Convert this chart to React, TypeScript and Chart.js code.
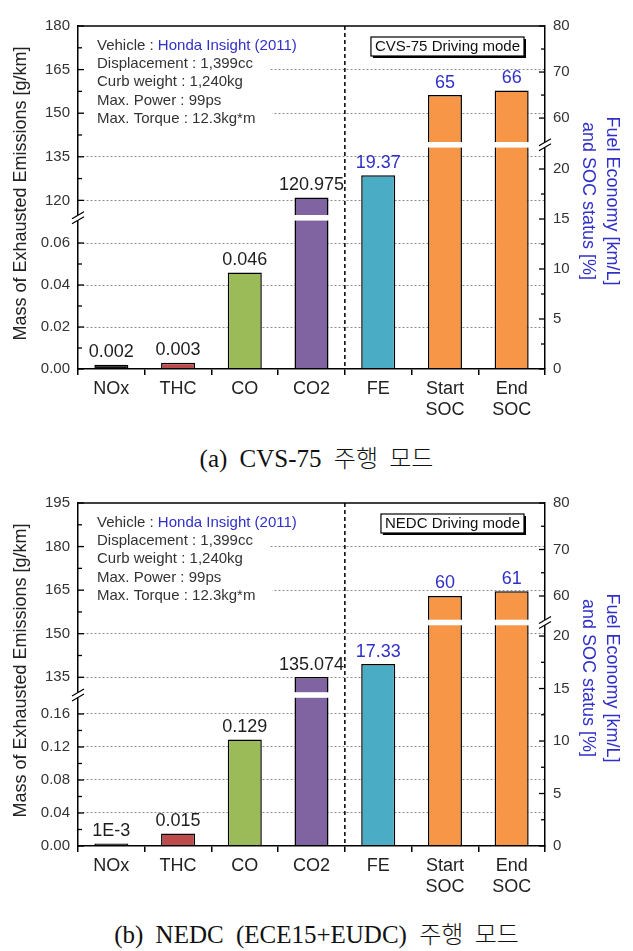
import React, { useEffect, useRef } from 'react';
import { Chart, registerables } from 'chart.js';

Chart.register(...registerables);

const FONT = '"Liberation Sans", Arial, Helvetica, sans-serif';
const BLUE = '#3030c8';
Chart.defaults.font.family = FONT;

// ---------- data ----------
const categories: (string | string[])[] = ['NOx', 'THC', 'CO', 'CO2', 'FE', ['Start', 'SOC'], ['End', 'SOC']];
const barColors = ['#141414', '#bd4b4b', '#9bbb59', '#8064a2', '#4bacc6', '#f79646', '#f79646'];

// (a) CVS-75
const cvsEmissions = [0.002, 0.003, 0.046, 120.975];
const cvsEconomy = [19.37, 65, 66];
const cvsValueLabels = ['0.002', '0.003', '0.046', '120.975', '19.37', '65', '66'];
const cvsLeftLowTicks = [0, 0.02, 0.04, 0.06];
const cvsLeftHighTicks = [120, 135, 150, 165, 180];
const cvsRightLowTicks = [0, 5, 10, 15, 20];
const cvsRightHighTicks = [60, 70, 80];

// (b) NEDC
const nedcEmissions = [0.001, 0.015, 0.129, 135.074];
const nedcEconomy = [17.33, 60, 61];
const nedcValueLabels = ['1E-3', '0.015', '0.129', '135.074', '17.33', '60', '61'];
const nedcLeftLowTicks = [0, 0.04, 0.08, 0.12, 0.16];
const nedcLeftHighTicks = [135, 150, 165, 180, 195];
const nedcRightLowTicks = [0, 5, 10, 15, 20];
const nedcRightHighTicks = [60, 70, 80];

const vehicleInfo = [
  [{ text: 'Vehicle : ', color: '#333' }, { text: 'Honda Insight (2011)', color: BLUE }],
  [{ text: 'Displacement : 1,399cc', color: '#333' }],
  [{ text: 'Curb weight : 1,240kg', color: '#333' }],
  [{ text: 'Max. Power : 99ps', color: '#333' }],
  [{ text: 'Max. Torque : 12.3kg*m', color: '#333' }],
];

const leftTitle = 'Mass of Exhausted Emissions [g/km]';
const rightTitle = ['Fuel Economy [km/L]', 'and SOC status [%]'];

type AxisCfg = { min: number; max: number; weight: number; ticks: number[]; decimals: number };
type PanelCfg = {
  key: string;
  emissions: number[];
  economy: number[];
  labels: string[];
  leftLow: AxisCfg;
  leftHigh: AxisCfg;
  rightLow: AxisCfg;
  rightHigh: AxisCfg;
  mode: string;
};

const panelA: PanelCfg = {
  key: 'a',
  emissions: cvsEmissions,
  economy: cvsEconomy,
  labels: cvsValueLabels,
  leftLow: { min: 0, max: 0.072, weight: 151.2, ticks: cvsLeftLowTicks, decimals: 2 },
  leftHigh: { min: 114, max: 180, weight: 191.8, ticks: cvsLeftHighTicks, decimals: 0 },
  rightLow: { min: 0, max: 22.42, weight: 224.2, ticks: cvsRightLowTicks, decimals: 0 },
  rightHigh: { min: 54.2, max: 80, weight: 118.8, ticks: cvsRightHighTicks, decimals: 0 },
  mode: 'CVS-75 Driving mode',
};

const panelB: PanelCfg = {
  key: 'b',
  emissions: nedcEmissions,
  economy: nedcEconomy,
  labels: nedcValueLabels,
  leftLow: { min: 0, max: 0.183, weight: 151, ticks: nedcLeftLowTicks, decimals: 2 },
  leftHigh: { min: 128.9, max: 195, weight: 192, ticks: nedcLeftHighTicks, decimals: 0 },
  rightLow: { min: 0, max: 21.29, weight: 223.5, ticks: nedcRightLowTicks, decimals: 0 },
  rightHigh: { min: 54.3, max: 80, weight: 119.5, ticks: nedcRightHighTicks, decimals: 0 },
  mode: 'NEDC Driving mode',
};

// ---------- geometry ----------
const CANVAS_W = 617;
const CANVAS_H = 430;
const TOP_PAD = 18;
const LEFT_W = 70;
const RIGHT_W = 80;
const X_H = 69;

const near = (a: number, b: number) => Math.abs(a - b) < 1e-9;

function allTicks(majors: number[]) {
  const out = [...majors];
  for (let i = 0; i < majors.length - 1; i++) out.push((majors[i] + majors[i + 1]) / 2);
  return out.sort((a, b) => a - b);
}

// value of the upper (broken) scale at the bottom of the plot area
function upperBase(low: AxisCfg, high: AxisCfg) {
  return high.min - ((high.max - high.min) * low.weight) / high.weight;
}

function yScale(cfg: AxisCfg, position: 'left' | 'right', stack: string, gridOn: boolean) {
  const ticksAll = allTicks(cfg.ticks);
  const isMajor = (v: number) => cfg.ticks.some((m) => near(m, v));
  return {
    type: 'linear',
    position,
    stack,
    stackWeight: cfg.weight,
    min: cfg.min,
    max: cfg.max,
    bounds: 'data',
    afterBuildTicks: (s: any) => {
      s.ticks = ticksAll.map((v) => ({ value: v }));
    },
    afterFit: (s: any) => {
      s.width = position === 'left' ? LEFT_W : RIGHT_W;
    },
    ticks: {
      autoSkip: false,
      padding: 8,
      color: '#333',
      font: { size: 15 },
      callback: (v: any) => (isMajor(Number(v)) ? Number(v).toFixed(cfg.decimals) : ''),
    },
    grid: {
      drawTicks: false,
      lineWidth: 1,
      color: (c: any) => {
        const v = c.tick ? c.tick.value : NaN;
        return gridOn && isMajor(v) && v > cfg.min + 1e-9 && v < cfg.max - 1e-9 ? '#8c8c8c' : 'rgba(0,0,0,0)';
      },
    },
    border: { display: true, color: '#000', width: 1.5, dash: [2, 2], z: 1 },
  };
}

function Panel({ cfg, top }: { cfg: PanelCfg; top: number }) {
  const ref = useRef<HTMLCanvasElement | null>(null);

  useEffect(() => {
    if (!ref.current) return;
    const values = [...cfg.emissions, ...cfg.economy];
    const nE = cfg.emissions.length;
    const mk = (axis: string, pick: (i: number, v: number) => boolean, base?: number) => ({
      data: values.map((v, i) => (pick(i, v) ? v : null)),
      yAxisID: axis,
      backgroundColor: barColors,
      borderColor: '#000',
      borderWidth: 1.5,
      grouped: false,
      barPercentage: 0.51,
      categoryPercentage: 1,
      minBarLength: 2.5,
      clip: false,
      ...(base !== undefined ? { base } : {}),
    });
    const datasets = [
      mk('yL0', (i, v) => i < nE && v <= cfg.leftLow.max),
      mk('yL1', (i, v) => i < nE && v > cfg.leftLow.max, upperBase(cfg.leftLow, cfg.leftHigh)),
      mk('yR0', (i, v) => i >= nE && v <= cfg.rightLow.max),
      mk('yR1', (i, v) => i >= nE && v > cfg.rightLow.max, upperBase(cfg.rightLow, cfg.rightHigh)),
    ];

    const decor = {
      id: 'decor' + cfg.key,
      afterDraw(chart: any) {
        const { ctx, chartArea: ca, scales } = chart;
        const L1 = scales.yL1;
        const R1 = scales.yR1;
        const X = scales.x;
        ctx.save();

        // white break bands on bars
        const band = (di: number, yb: number) => {
          const meta = chart.getDatasetMeta(di);
          meta.data.forEach((el: any, i: number) => {
            if (chart.data.datasets[di].data[i] == null) return;
            const p = el.getProps(['x', 'width'], true);
            ctx.fillStyle = '#fff';
            ctx.fillRect(p.x - p.width / 2 - 1.5, yb - 2.8, p.width + 3, 5.6);
          });
        };
        band(1, L1.bottom);
        band(3, R1.bottom);

        // top frame line
        ctx.strokeStyle = '#000';
        ctx.lineWidth = 1.5;
        ctx.beginPath();
        ctx.moveTo(ca.left, ca.top);
        ctx.lineTo(ca.right, ca.top);
        ctx.stroke();

        // vertical dashed separator between CO2 and FE
        const xs = (X.getPixelForValue(nE - 1) + X.getPixelForValue(nE)) / 2;
        ctx.setLineDash([4, 3]);
        ctx.lineWidth = 1.5;
        ctx.beginPath();
        ctx.moveTo(xs, ca.top);
        ctx.lineTo(xs, ca.bottom);
        ctx.stroke();
        ctx.setLineDash([]);

        // info text
        ctx.font = '15px ' + FONT;
        ctx.textBaseline = 'middle';
        ctx.textAlign = 'left';
        vehicleInfo.forEach((parts, k) => {
          const y = ca.top + 19.5 + k * 18.3;
          const w = parts.reduce((a, p) => a + ctx.measureText(p.text).width, 0);
          ctx.fillStyle = '#fff';
          ctx.fillRect(ca.left + 6, y - 9.2, 13 + w + 17, 18.4);
          let x = ca.left + 19;
          parts.forEach((p) => {
            ctx.fillStyle = p.color;
            ctx.fillText(p.text, x, y);
            x += ctx.measureText(p.text).width;
          });
        });

        // driving mode box
        const tw = ctx.measureText(cfg.mode).width;
        const bw = tw + 8;
        const bh = 19;
        const bx = ca.right - 21 - bw;
        const by = ca.top + 11;
        ctx.fillStyle = '#000';
        ctx.fillRect(bx + 2, by + 2, bw, bh);
        ctx.fillStyle = '#fff';
        ctx.fillRect(bx, by, bw, bh);
        ctx.strokeStyle = '#000';
        ctx.lineWidth = 1.2;
        ctx.strokeRect(bx, by, bw, bh);
        ctx.fillStyle = '#111';
        ctx.textAlign = 'center';
        ctx.fillText(cfg.mode, bx + bw / 2, by + bh / 2 + 0.5);

        // value labels
        ctx.font = '18px ' + FONT;
        ctx.textAlign = 'center';
        ctx.textBaseline = 'alphabetic';
        for (let di = 0; di < 4; di++) {
          const meta = chart.getDatasetMeta(di);
          meta.data.forEach((el: any, i: number) => {
            if (chart.data.datasets[di].data[i] == null) return;
            const p = el.getProps(['x', 'y'], true);
            ctx.fillStyle = i < nE ? '#1e1e1e' : BLUE;
            ctx.fillText(cfg.labels[i], p.x, p.y - 7.5);
          });
        }

        // inward tick marks on y axes
        ctx.strokeStyle = '#000';
        ctx.lineWidth = 1.3;
        const tickMarks = (s: any, c: AxisCfg, side: 'left' | 'right') => {
          s.ticks.forEach((t: any) => {
            const y = s.getPixelForValue(t.value);
            if (y < s.top - 0.5 || y > s.bottom + 0.5) return;
            const len = c.ticks.some((m) => near(m, t.value)) ? 6 : 4;
            const x0 = side === 'left' ? ca.left : ca.right;
            const dir = side === 'left' ? 1 : -1;
            ctx.beginPath();
            ctx.moveTo(x0, y);
            ctx.lineTo(x0 + dir * len, y);
            ctx.stroke();
          });
        };
        tickMarks(scales.yL0, cfg.leftLow, 'left');
        tickMarks(scales.yL1, cfg.leftHigh, 'left');
        tickMarks(scales.yR0, cfg.rightLow, 'right');
        tickMarks(scales.yR1, cfg.rightHigh, 'right');

        // axis break marks
        const breakMark = (x: number, y: number) => {
          ctx.fillStyle = '#fff';
          ctx.fillRect(x - 2, y - 2.6, 4, 5.2);
          ctx.strokeStyle = '#000';
          ctx.lineWidth = 1.2;
          ctx.beginPath();
          ctx.moveTo(x - 6, y + 6);
          ctx.lineTo(x + 6, y - 1);
          ctx.moveTo(x - 6, y + 1);
          ctx.lineTo(x + 6, y - 6);
          ctx.stroke();
        };
        breakMark(ca.left, L1.bottom);
        breakMark(ca.right, R1.bottom);

        // axis titles
        const mid = (ca.top + ca.bottom) / 2;
        ctx.font = '18px ' + FONT;
        ctx.textAlign = 'center';
        ctx.textBaseline = 'middle';
        ctx.save();
        ctx.translate(12.7, mid - 4);
        ctx.rotate(-Math.PI / 2);
        ctx.fillStyle = '#222';
        ctx.fillText(leftTitle, 0, 0);
        ctx.restore();
        const rx = [603.5, 580];
        rightTitle.forEach((line, k) => {
          ctx.save();
          ctx.translate(rx[k], mid + 3.5);
          ctx.rotate(Math.PI / 2);
          ctx.fillStyle = BLUE;
          ctx.fillText(line, 0, 0);
          ctx.restore();
        });

        ctx.restore();
      },
    };

    const chart = new Chart(ref.current, {
      type: 'bar',
      data: { labels: categories as any, datasets: datasets as any },
      options: {
        responsive: false,
        animation: false,
        devicePixelRatio: 1,
        layout: { padding: { top: TOP_PAD, left: 0, right: 0, bottom: 0 } },
        plugins: { legend: { display: false }, tooltip: { enabled: false } },
        scales: {
          x: {
            type: 'category',
            offset: true,
            grid: { offset: true, drawOnChartArea: false, drawTicks: true, tickLength: 6, color: '#000', lineWidth: 1.5 },
            border: { color: '#000', width: 1.5, z: 1 },
            ticks: { color: '#222', font: { size: 18 }, padding: 3, maxRotation: 0, minRotation: 0, autoSkip: false },
            afterFit: (s: any) => {
              s.height = X_H;
            },
          },
          yL0: yScale(cfg.leftLow, 'left', 'left', true),
          yL1: yScale(cfg.leftHigh, 'left', 'left', true),
          yR1: yScale(cfg.rightHigh, 'right', 'right', false),
          yR0: yScale(cfg.rightLow, 'right', 'right', false),
        } as any,
      },
      plugins: [decor],
    } as any);

    return () => chart.destroy();
  }, [cfg]);

  return (
    <canvas
      ref={ref}
      width={CANVAS_W}
      height={CANVAS_H}
      style={{ position: 'absolute', left: 0, top, display: 'block', width: CANVAS_W, height: CANVAS_H }}
    />
  );
}

const captionA = ['(a) CVS-75', '주행 모드'];
const captionB = ['(b) NEDC (ECE15+EUDC)', '주행 모드'];

function Caption({ center, parts }: { center: number; parts: string[] }) {
  return (
    <div
      style={{
        position: 'absolute',
        left: 0,
        top: center - 15,
        width: CANVAS_W,
        height: 30,
        lineHeight: '30px',
        textAlign: 'center',
        fontFamily: '"Liberation Serif", "Times New Roman", serif',
        fontSize: 25,
        color: '#111',
        wordSpacing: 6,
        whiteSpace: 'nowrap',
      }}
    >
      {parts[0]}{' '}
      <span style={{ fontFamily: '"Noto Sans CJK KR", sans-serif', fontSize: 24, fontWeight: 300 }}>{parts[1]}</span>
    </div>
  );
}

export default function App() {
  return (
    <div style={{ position: 'relative', width: CANVAS_W, height: 943 }}>
      <Panel cfg={panelA} top={0} />
      <Caption center={449} parts={captionA} />
      <Panel cfg={panelB} top={477} />
      <Caption center={925} parts={captionB} />
    </div>
  );
}
